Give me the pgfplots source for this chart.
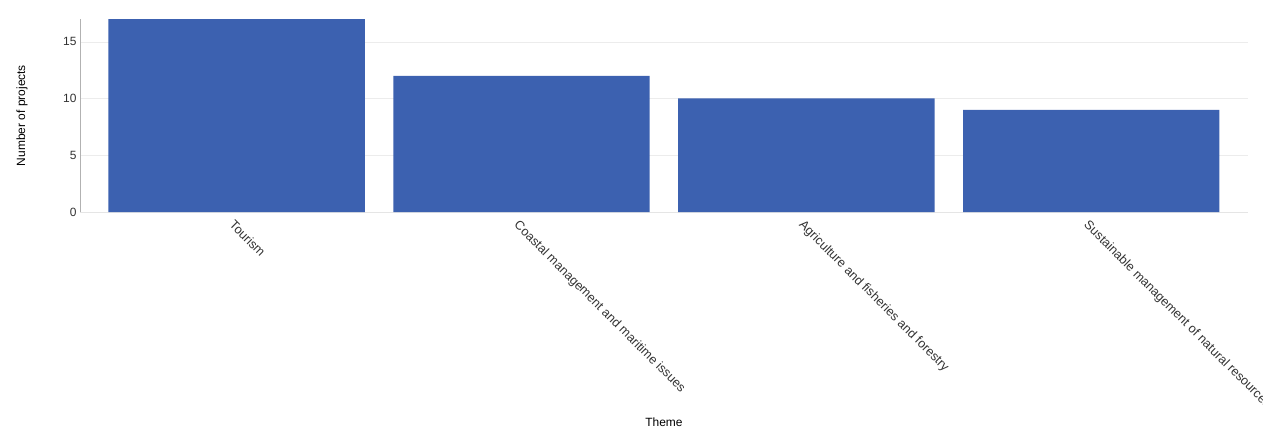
\documentclass[border=0pt]{standalone}
\usepackage{pgfplots}
\pgfplotsset{compat=1.18}
\usepackage{fontspec}
\setmainfont{Liberation Sans}
\definecolor{barblue}{RGB}{60,97,176}
\definecolor{txt}{RGB}{51,51,51}
\begin{document}
\begin{tikzpicture}
\begin{axis}[
  at={(0,0)}, anchor=south west,
  scale only axis, width=1168bp, height=193bp,
  xmin=-0.55, xmax=3.55, ymin=0, ymax=17,
  ybar, bar width=0.9,
  xtick={0,1,2,3},
  xticklabels={Tourism,Coastal management and maritime issues,Agriculture and fisheries and forestry,Sustainable management of natural resources},
  ytick={0,5,10,15},
  ymajorgrids, grid style={draw=gray!15},
  axis lines*=left,
  x axis line style={draw=gray!20,-},
  y axis line style={draw=gray!60,-},
  tick style={draw=none},
  /pgf/number format/assume math mode=true,
  xticklabel style={rotate=-45, anchor=north west, font=\fontsize{12.7}{14}\selectfont, text=txt, inner sep=1pt, yshift=-2bp},
  yticklabel style={font=\fontsize{12}{14}\selectfont, text=txt},
  xlabel={Theme},
  ylabel={Number of projects},
  xlabel style={at={(axis description cs:0.5,0)}, anchor=north, yshift=-202bp, font=\fontsize{12}{14}\selectfont, text=black},
  ylabel style={at={(axis description cs:-0.0497,0.5)}, anchor=center, font=\fontsize{12}{14}\selectfont, text=black},
]
\addplot[fill=barblue, draw=none] coordinates {(0,17) (1,12) (2,10) (3,9)};
\end{axis}
\pgfresetboundingbox
\path[use as bounding box] (-80bp,-215bp) rectangle (1183bp,212bp);
\end{tikzpicture}
\end{document}
